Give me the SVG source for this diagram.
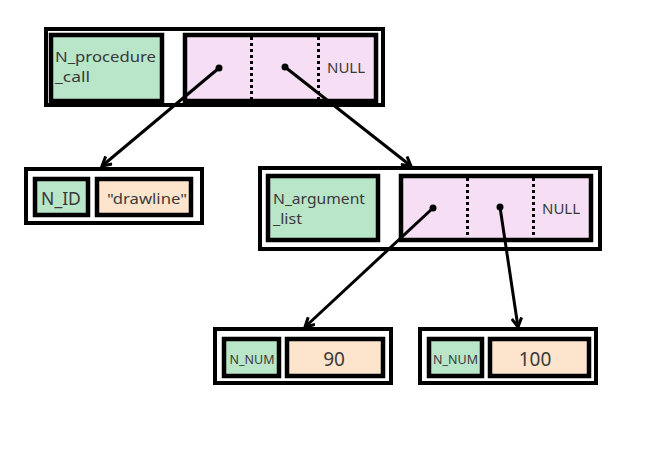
<svg xmlns="http://www.w3.org/2000/svg" width="658" height="453" viewBox="0 0 658 453">
<style>
.box{fill:#fff;stroke:#000;stroke-width:4}
.g{fill:#b9e5c9;stroke:#000;stroke-width:4.5}
.p{fill:#f6dff4;stroke:#000;stroke-width:4.5}
.o{fill:#fce4cd;stroke:#000;stroke-width:4.5}
.dot{stroke:#000;stroke-width:3;stroke-dasharray:3 3}
.t{font-family:"Noto Sans","Open Sans",sans-serif;fill:#3a3a3a}
.c{stroke:#000;stroke-width:3;fill:none;marker-end:url(#ah)}
</style>
<defs>
<marker id="ah" viewBox="0 0 12 12" refX="10" refY="6" markerWidth="12" markerHeight="12" markerUnits="userSpaceOnUse" orient="auto">
<polyline points="1,1 10,6 1,11" fill="none" stroke="#000" stroke-width="3"/>
</marker>
</defs>
<g id="procedure_call">
<rect class="box" x="46" y="29" width="337" height="76"/>
<rect class="g" x="51" y="35" width="111" height="66"/>
<rect class="p" x="185" y="35" width="191" height="66"/>
<line class="dot" x1="251.5" y1="37" x2="251.5" y2="99"/>
<line class="dot" x1="318.5" y1="37" x2="318.5" y2="99"/>
<text class="t" x="55" y="62" font-size="14.5" textLength="101" lengthAdjust="spacingAndGlyphs">N_procedure</text>
<text class="t" x="55" y="82" font-size="14.5" textLength="35" lengthAdjust="spacingAndGlyphs">_call</text>
<text class="t" x="327" y="73" font-size="15">NULL</text>
</g>
<g id="n_id">
<rect class="box" x="26" y="169" width="176" height="54"/>
<rect class="g" x="35" y="179" width="53" height="36"/>
<rect class="o" x="97" y="179" width="94" height="36"/>
<text class="t" x="61" y="205" font-size="17.5" text-anchor="middle">N_ID</text>
<text class="t" x="147" y="204" font-size="15" text-anchor="middle" textLength="80" lengthAdjust="spacingAndGlyphs">"drawline"</text>
</g>
<g id="argument_list">
<rect class="box" x="260" y="168" width="340" height="81"/>
<rect class="g" x="268" y="176" width="110" height="64"/>
<rect class="p" x="401" y="176" width="190" height="64"/>
<line class="dot" x1="467.5" y1="178" x2="467.5" y2="238"/>
<line class="dot" x1="533.5" y1="178" x2="533.5" y2="238"/>
<text class="t" x="273" y="204" font-size="14.5" textLength="92" lengthAdjust="spacingAndGlyphs">N_argument</text>
<text class="t" x="273" y="224" font-size="14.5" textLength="29" lengthAdjust="spacingAndGlyphs">_list</text>
<text class="t" x="542" y="214" font-size="15">NULL</text>
</g>
<g id="num90">
<rect class="box" x="215" y="329" width="176" height="54"/>
<rect class="g" x="224" y="339" width="55" height="37"/>
<rect class="o" x="287" y="339" width="96" height="37"/>
<text class="t" x="252" y="364" font-size="12.5" text-anchor="middle">N_NUM</text>
<text class="t" x="334" y="366" font-size="19" text-anchor="middle">90</text>
</g>
<g id="num100">
<rect class="box" x="420" y="329" width="176" height="54"/>
<rect class="g" x="429" y="339" width="53" height="37"/>
<rect class="o" x="490" y="339" width="99" height="37"/>
<text class="t" x="455.5" y="364" font-size="12.5" text-anchor="middle">N_NUM</text>
<text class="t" x="535" y="366" font-size="19" text-anchor="middle">100</text>
</g>
<g id="connectors">
<circle cx="219" cy="68" r="3.5"/>
<circle cx="285" cy="67" r="3.5"/>
<circle cx="433" cy="208" r="3.5"/>
<circle cx="500" cy="207" r="3.5"/>
<line class="c" x1="219" y1="68" x2="102" y2="166"/>
<line class="c" x1="285" y1="67" x2="411" y2="166"/>
<line class="c" x1="433" y1="208" x2="305" y2="327"/>
<line class="c" x1="500" y1="207" x2="518" y2="327"/>
</g>
</svg>
